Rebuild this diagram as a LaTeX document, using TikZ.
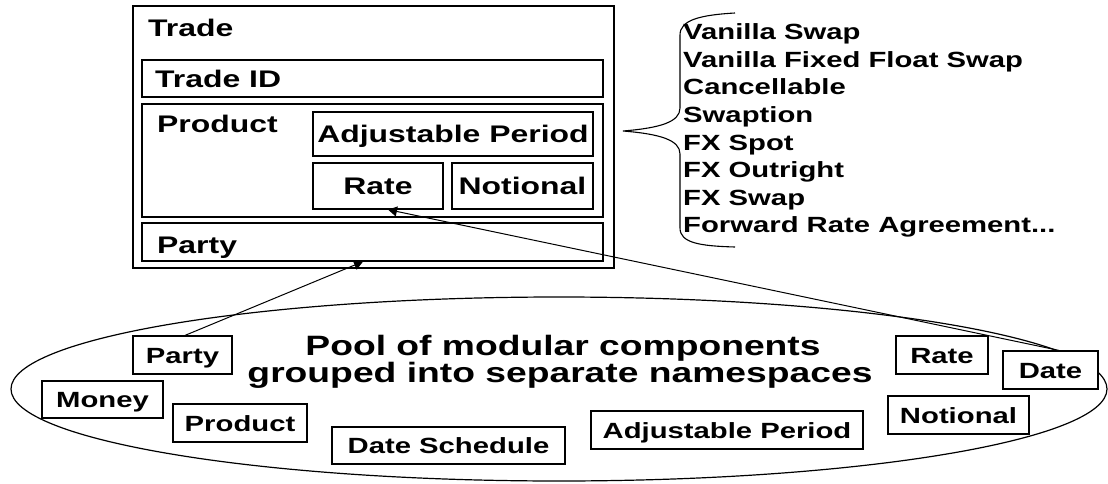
\documentclass[tikz,border=0pt]{standalone}
\usepackage{fontspec}
\setmainfont{Liberation Sans}[FakeStretch=1.33]
\usetikzlibrary{shapes.geometric,arrows.meta}
\tikzset{
  box/.style={draw, line width=1.2pt, fill=white, inner sep=0pt, text height=17pt, text depth=0pt,
    font=\bfseries\fontsize{24}{28}\selectfont},
  pbox/.style={draw, line width=1.2pt, fill=white, inner sep=0pt, text height=16pt, text depth=0pt,
    font=\bfseries\fontsize{22}{26}\selectfont},
  lbl/.style={anchor=base west, inner sep=0pt, font=\bfseries\fontsize{24}{28}\selectfont},
  item/.style={anchor=base west, inner sep=0pt, font=\bfseries\fontsize{22}{26}\selectfont},
  pooltxt/.style={anchor=base, inner sep=0pt, font=\bfseries\fontsize{28}{27}\selectfont},
  link/.style={line width=1pt, -{Triangle[length=9pt,width=10pt]}}
}
\begin{document}
\begin{tikzpicture}[x=1pt,y=-1pt]
\useasboundingbox (0,0) rectangle (1108,484);
% pool
\node[ellipse, draw, line width=1.2pt, minimum width=1096pt, minimum height=184pt, inner sep=0pt] (pool) at (559,389) {};
\node[pooltxt] (pool1) at (563,355) {Pool of modular components};
\node[pooltxt] (pool2) at (560,382) {grouped into separate namespaces};
\node[pbox, minimum width=99pt, minimum height=38pt] (pparty) at (182.5,355) {Party};
\node[pbox, minimum width=121pt, minimum height=37pt] (pmoney) at (102.5,399.5) {Money};
\node[pbox, minimum width=134pt, minimum height=38pt] (pproduct) at (240,423) {Product};
\node[pbox, minimum width=233pt, minimum height=37pt] (pdatesch) at (448.5,445.5) {Date Schedule};
\node[pbox, minimum width=272pt, minimum height=38pt] (padj) at (727,430) {Adjustable Period};
\node[pbox, minimum width=92pt, minimum height=38pt] (prate) at (942,355) {Rate};
\node[pbox, minimum width=141pt, minimum height=38pt] (pnotional) at (958.5,415) {Notional};
\node[pbox, minimum width=95pt, minimum height=38pt] (pdate) at (1050.5,370) {Date};
% trade
\node[box, minimum width=481pt, minimum height=262pt] (trade) at (373.5,137) {};
\node[lbl] (tradelbl) at (148,37) {Trade};
\node[box, minimum width=461pt, minimum height=37pt] (tradeid) at (372.5,78.5) {};
\node[lbl] (tradeidlbl) at (155,88) {Trade ID};
\node[box, minimum width=461pt, minimum height=113pt] (product) at (372.5,160.5) {};
\node[lbl] (productlbl) at (157,133) {Product};
\node[box, minimum width=280pt, minimum height=44pt] (adj) at (453,134) {Adjustable Period};
\node[box, minimum width=130pt, minimum height=46pt] (rate) at (378,186) {Rate};
\node[box, minimum width=141pt, minimum height=46pt] (notional) at (522.5,186) {Notional};
\node[box, minimum width=461pt, minimum height=38pt] (party) at (372.5,242) {};
\node[lbl] (partylbl) at (157,253) {Party};
% product list
\node[item] (item1) at (683,40) {Vanilla Swap};
\node[item] (item2) at (683,67.5) {Vanilla Fixed Float Swap};
\node[item] (item3) at (683,95) {Cancellable};
\node[item] (item4) at (683,122.5) {Swaption};
\node[item] (item5) at (683,150) {FX Spot};
\node[item] (item6) at (683,177.5) {FX Outright};
\node[item] (item7) at (683,205) {FX Swap};
\node[item] (item8) at (683,232.5) {Forward Rate Agreement...};
\draw[line width=1.1pt] (735,13) .. controls (700,15) and (680,20) .. (680,35) -- (680,108)
  .. controls (680,122) and (660,128) .. (623,131)
  .. controls (660,134) and (680,140) .. (680,154) -- (680,228)
  .. controls (680,243) and (700,246) .. (735,247);
% links
\draw[link] ([xshift=8.5pt]pdate.north) -- ([xshift=10pt]rate.south);
\draw[link] ([xshift=2.5pt]pparty.north) -- ([xshift=-9.5pt]party.south);
\end{tikzpicture}
\end{document}
